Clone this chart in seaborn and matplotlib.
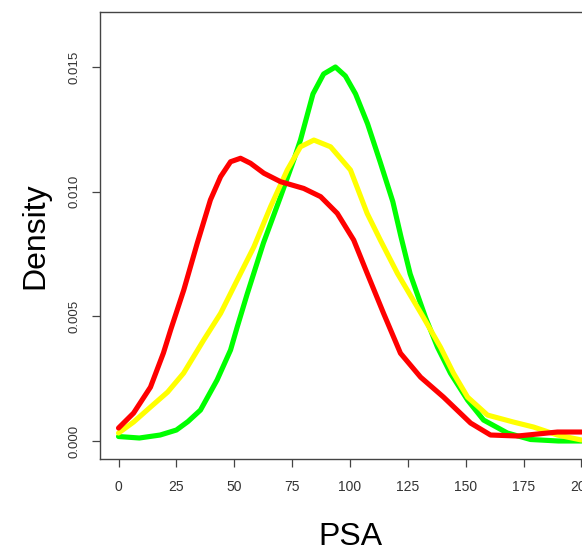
import matplotlib
matplotlib.use("Agg")
import matplotlib.pyplot as plt
import seaborn as sns
import pandas as pd

# PSA density curves
green_x = [0, 9, 18, 25, 30, 35.4, 42.6, 48.4, 51.3, 55.6, 62.6, 70, 75.7, 78.6, 84, 88.6,
           93.7, 98, 102.4, 107.6, 113, 118.5, 122, 126, 132.6, 137.8, 143.4, 150.8, 157.7,
           168, 178, 190, 200]
green_y = [0.00018, 0.00012, 0.00024, 0.00044, 0.00078, 0.00124, 0.00245, 0.00365, 0.00458,
           0.0059, 0.00794, 0.0098, 0.01127, 0.01207, 0.01392, 0.01472, 0.0150, 0.01464,
           0.01392, 0.01272, 0.0112, 0.0096, 0.0082, 0.0067, 0.00496, 0.00376, 0.00272,
           0.00164, 0.00084, 0.00032, 0.00006, 0.0, 0.0]

yellow_x = [0, 6.5, 13.8, 21.2, 28.1, 36.8, 44.1, 51.3, 58.5, 65.7, 72.9, 78.6, 84.4, 91.6,
            100.2, 107.4, 113.2, 120.5, 131.7, 139.1, 144.7, 150.8, 159.4, 170.6, 179.3,
            189.6, 200]
yellow_y = [0.00032, 0.00076, 0.00136, 0.00196, 0.00272, 0.00405, 0.00512, 0.00646, 0.00779,
            0.0094, 0.01087, 0.0118, 0.01207, 0.0118, 0.01087, 0.00913, 0.00804, 0.00672,
            0.00496, 0.00376, 0.00272, 0.00176, 0.00104, 0.00076, 0.00056, 0.00024, 0.00004]

red_x = [0, 6.5, 13.8, 19.4, 22.5, 28.2, 34, 39.7, 44.1, 48.4, 52.7, 57, 62.8, 70, 80, 87.3,
         94.5, 101.6, 107.4, 114.5, 121.8, 130.5, 140.4, 152.1, 160.7, 172.4, 181, 189.6, 200]
red_y = [0.00052, 0.00112, 0.00216, 0.00353, 0.00445, 0.00606, 0.00793, 0.00967, 0.0106,
         0.0112, 0.01134, 0.01114, 0.01074, 0.0104, 0.01013, 0.0098, 0.00913, 0.00806,
         0.00673, 0.00512, 0.00352, 0.00256, 0.00176, 0.00072, 0.00024, 0.0002, 0.00028,
         0.00036, 0.00036]

x_ticks = [0, 25, 50, 75, 100, 125, 150, 175, 200]
y_ticks = [0.000, 0.005, 0.010, 0.015]
y_tick_labels = ["0.000", "0.005", "0.010", "0.015"]

sns.set_style("white")
plt.rcParams['font.family'] = ['Liberation Sans', 'DejaVu Sans']

fig = plt.figure(figsize=(5.82, 5.46), dpi=100)
ax = fig.add_axes([100 / 582, 87 / 546, 500 / 582, 447 / 546])

series = [(green_x, green_y, '#00FF00'), (yellow_x, yellow_y, '#FFFF00'), (red_x, red_y, '#FF0000')]
for xs, ys, col in series:
    df = pd.DataFrame({"PSA": xs, "Density": ys})
    sns.lineplot(data=df, x="PSA", y="Density", color=col, linewidth=3.7, ax=ax,
                 estimator=None, sort=False, solid_capstyle='round', solid_joinstyle='round')

ax.set_xlim(-8, 208)
ax.set_ylim(-0.000722, 0.017206)

ax.set_xticks(x_ticks)
ax.set_xticklabels([str(t) for t in x_ticks])
ax.set_yticks(y_ticks)
ax.set_yticklabels(y_tick_labels)

for s in ax.spines.values():
    s.set_visible(True)
    s.set_color('#444444')
    s.set_linewidth(1.0)

ax.tick_params(axis='x', length=6, width=0.9, color='#444444', direction='out',
               labelsize=10, labelcolor='#333333', pad=9, bottom=True)
ax.tick_params(axis='y', length=6, width=0.9, color='#444444', direction='out',
               labelsize=9.5, labelcolor='#333333', pad=8, left=True)
for lbl in ax.get_yticklabels():
    lbl.set_rotation(90)
    lbl.set_va('center')

ax.set_xlabel("PSA", fontsize=23, color='black')
ax.set_ylabel("Density", fontsize=23, color='black')
ax.xaxis.label.set_va('baseline')
ax.xaxis.set_label_coords(0.5, -0.1924)
ax.yaxis.label.set_va('baseline')
ax.yaxis.set_label_coords(-0.114, 0.5)

fig.savefig("out.png", dpi=100)
